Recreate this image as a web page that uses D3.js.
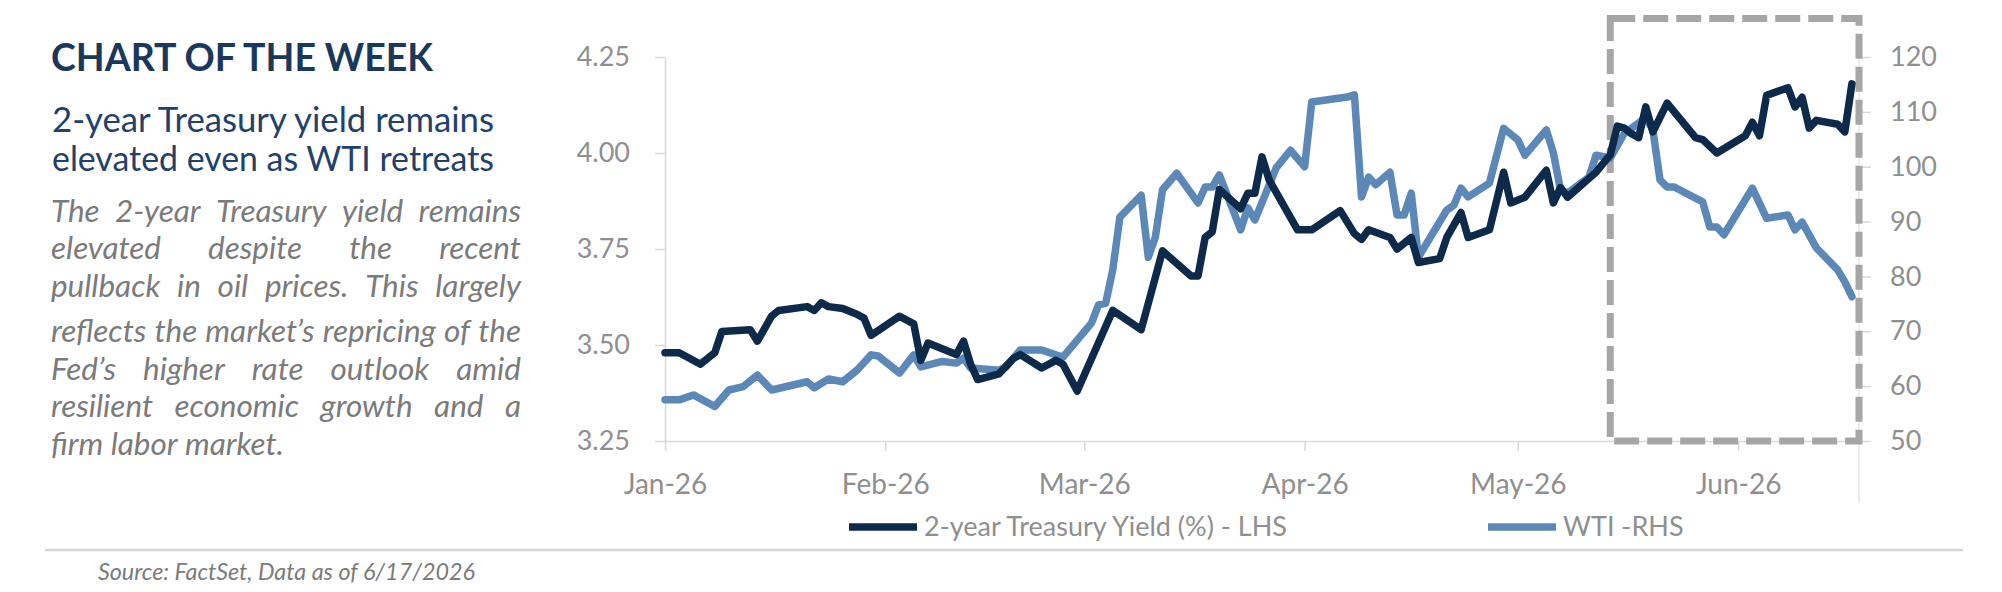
<!DOCTYPE html>
<html>
<head>
<meta charset="utf-8">
<script src="https://cdn.jsdelivr.net/npm/d3@7"></script>
<style>
  body { margin: 0; background: #fff; }
  svg { display: block; }
</style>
</head>
<body>
<div id="chart"></div>
<script>
// 2-year Treasury yield (LHS) vs WTI crude (RHS)

const yieldDates = [
  '2026-01-01', '2026-01-03', '2026-01-06', '2026-01-08', '2026-01-09', '2026-01-13', '2026-01-14',
  '2026-01-16', '2026-01-17', '2026-01-21', '2026-01-22', '2026-01-23', '2026-01-24', '2026-01-26',
  '2026-01-28', '2026-01-29', '2026-01-30', '2026-02-03', '2026-02-05', '2026-02-06', '2026-02-07',
  '2026-02-09', '2026-02-11', '2026-02-12', '2026-02-13', '2026-02-14', '2026-02-17', '2026-02-18',
  '2026-02-19', '2026-02-20', '2026-02-23', '2026-02-25', '2026-02-26', '2026-02-28', '2026-03-05',
  '2026-03-09', '2026-03-12', '2026-03-16', '2026-03-17', '2026-03-18', '2026-03-19', '2026-03-20',
  '2026-03-23', '2026-03-24', '2026-03-25', '2026-03-26', '2026-03-27', '2026-03-31', '2026-04-02',
  '2026-04-06', '2026-04-08', '2026-04-09', '2026-04-10', '2026-04-13', '2026-04-14', '2026-04-16',
  '2026-04-17', '2026-04-20', '2026-04-21', '2026-04-23', '2026-04-24', '2026-04-27', '2026-04-29',
  '2026-04-30', '2026-05-02', '2026-05-05', '2026-05-06', '2026-05-07', '2026-05-08', '2026-05-12',
  '2026-05-14', '2026-05-15', '2026-05-16', '2026-05-17', '2026-05-18', '2026-05-19', '2026-05-20',
  '2026-05-22', '2026-05-26', '2026-05-27', '2026-05-29', '2026-06-02', '2026-06-03', '2026-06-04',
  '2026-06-05', '2026-06-08', '2026-06-09', '2026-06-10', '2026-06-11', '2026-06-12', '2026-06-15',
  '2026-06-16', '2026-06-17'
];
const yieldValues = [
  3.48, 3.48, 3.45, 3.48, 3.535, 3.54, 3.51,
  3.575, 3.59, 3.60, 3.59, 3.61, 3.60, 3.595,
  3.58, 3.57, 3.525, 3.575, 3.555, 3.46, 3.505,
  3.49, 3.475, 3.51, 3.45, 3.41, 3.425, 3.445,
  3.465, 3.475, 3.44, 3.46, 3.45, 3.38, 3.59,
  3.54, 3.745, 3.68, 3.68, 3.78, 3.795, 3.905,
  3.855, 3.895, 3.895, 3.99, 3.93, 3.80, 3.80,
  3.85, 3.79, 3.775, 3.80, 3.78, 3.75, 3.78,
  3.715, 3.725, 3.78, 3.845, 3.78, 3.80, 3.95,
  3.87, 3.885, 3.955, 3.87, 3.91, 3.885, 3.95,
  3.995, 4.07, 4.065, 4.05, 4.04, 4.12, 4.055,
  4.13, 4.04, 4.035, 4.00, 4.045, 4.08, 4.045,
  4.15, 4.17, 4.12, 4.145, 4.065, 4.085, 4.075,
  4.055, 4.18
];

const wtiDates = [
  '2026-01-01', '2026-01-03', '2026-01-05', '2026-01-08', '2026-01-10', '2026-01-12', '2026-01-14',
  '2026-01-16', '2026-01-21', '2026-01-22', '2026-01-24', '2026-01-26', '2026-01-28', '2026-01-30',
  '2026-01-31', '2026-02-03', '2026-02-05', '2026-02-06', '2026-02-09', '2026-02-11', '2026-02-12',
  '2026-02-13', '2026-02-17', '2026-02-18', '2026-02-20', '2026-02-23', '2026-02-25', '2026-02-26',
  '2026-02-28', '2026-03-02', '2026-03-03', '2026-03-04', '2026-03-05', '2026-03-06', '2026-03-09',
  '2026-03-10', '2026-03-11', '2026-03-12', '2026-03-14', '2026-03-17', '2026-03-18', '2026-03-19',
  '2026-03-20', '2026-03-23', '2026-03-24', '2026-03-25', '2026-03-28', '2026-03-30', '2026-04-01',
  '2026-04-02', '2026-04-07', '2026-04-08', '2026-04-09', '2026-04-10', '2026-04-11', '2026-04-13',
  '2026-04-14', '2026-04-15', '2026-04-16', '2026-04-17', '2026-04-21', '2026-04-22', '2026-04-23',
  '2026-04-24', '2026-04-27', '2026-04-29', '2026-05-01', '2026-05-02', '2026-05-05', '2026-05-06',
  '2026-05-07', '2026-05-08', '2026-05-11', '2026-05-12', '2026-05-14', '2026-05-16', '2026-05-19',
  '2026-05-20', '2026-05-21', '2026-05-22', '2026-05-23', '2026-05-27', '2026-05-28', '2026-05-29',
  '2026-05-30', '2026-06-03', '2026-06-05', '2026-06-08', '2026-06-09', '2026-06-10', '2026-06-12',
  '2026-06-15', '2026-06-16', '2026-06-17'
];
const wtiValues = [
  57.5, 57.5, 58.4, 56.3, 59.3, 59.9, 62.0,
  59.3, 60.8, 59.7, 61.3, 60.8, 62.9, 65.7,
  65.5, 62.4, 65.7, 63.5, 64.5, 64.2, 65.1,
  63.3, 62.9, 63.5, 66.6, 66.6, 65.7, 65.3,
  68.4, 71.5, 74.8, 75.1, 81.2, 90.8, 94.8,
  83.5, 87.2, 95.8, 98.8, 93.4, 96.3, 96.3,
  98.5, 88.5, 92.5, 90.3, 99.8, 103.0, 100.0,
  111.8, 112.7, 113.1, 94.5, 98.1, 96.7, 99.0,
  91.2, 91.2, 95.2, 83.5, 92.1, 93.0, 96.1,
  94.5, 97.0, 107.0, 104.9, 102.1, 106.7, 102.5,
  95.8, 95.2, 98.1, 102.1, 101.6, 106.1, 108.9,
  106.7, 97.6, 96.3, 96.3, 93.6, 89.0, 89.0,
  87.6, 96.1, 90.6, 91.2, 88.5, 89.9, 85.2,
  81.2, 79.0, 76.3
];

const monthTicks = ['2026-01-01', '2026-02-01', '2026-03-01', '2026-04-01', '2026-05-01', '2026-06-01'];
const dateRange = ['2026-01-01', '2026-06-18'];
const leftTicks = [3.25, 3.50, 3.75, 4.00, 4.25];
const rightTicks = [50, 60, 70, 80, 90, 100, 110, 120];
const highlightDates = ['2026-05-14', '2026-06-18'];
const highlightValues = [50, 127];   // on the right axis

const seriesNames = ['2-year Treasury Yield (%) - LHS', 'WTI -RHS'];
const seriesColors = ['#0e2a4b', '#5c88b8'];

const headline = 'CHART OF THE WEEK';
const subtitleLines = ['2-year Treasury yield remains', 'elevated even as WTI retreats'];
const bodyLines = [
  'The 2-year Treasury yield remains',
  'elevated despite the recent',
  'pullback in oil prices. This largely',
  'reflects the market\u2019s repricing of the',
  'Fed\u2019s higher rate outlook amid',
  'resilient economic growth and a',
  'firm labor market.'
];
const sourceText = 'Source: FactSet, Data as of 6/17/2026';

const W = 2002, H = 592;
const parse = d3.utcParse('%Y-%m-%d');
const plot = { left: 665, right: 1859, top: 57, bottom: 441 };

const svg = d3.select('#chart').append('svg')
  .attr('width', W)
  .attr('height', H)
  .style('font-family', 'Lato, "Open Sans", sans-serif');

// helper: scale font so text spans a given width
function fitWidth(sel, target) {
  const w = sel.node().getComputedTextLength();
  const s = parseFloat(sel.attr('font-size'));
  sel.attr('font-size', (s * target / w).toFixed(2));
}

// ---- left text panel ----
const title = svg.append('text')
  .attr('x', 51).attr('y', 71)
  .attr('font-size', 30).attr('font-weight', 700)
  .attr('fill', '#1a375c')
  .text(headline);
fitWidth(title, 382);

subtitleLines.forEach((line, i) => {
  const t = svg.append('text')
    .attr('x', 52).attr('y', 132 + i * 39)
    .attr('font-size', 26)
    .attr('fill', '#22416a')
    .text(line);
  fitWidth(t, 442);
});

// justified italic body copy
const bodyLeft = 51, bodyWidth = 470;
const bodyBaselines = [222, 259, 297, 342, 380, 417, 455];
const probe = svg.append('text').attr('font-size', 22).attr('font-style', 'italic').text(bodyLines[3]);
const bodySize = 22 * 466 / probe.node().getComputedTextLength();
probe.remove();

function measure(word) {
  const t = svg.append('text').attr('font-size', bodySize).attr('font-style', 'italic').text(word);
  const w = t.node().getComputedTextLength();
  t.remove();
  return w;
}
const spaceW = measure('a a') - measure('aa');

bodyLines.forEach((line, i) => {
  const words = line.split(' ');
  const widths = words.map(measure);
  const last = i === bodyLines.length - 1;
  const gap = last ? spaceW : (bodyWidth - d3.sum(widths)) / (words.length - 1);
  const t = svg.append('text')
    .attr('y', bodyBaselines[i])
    .attr('font-size', bodySize)
    .attr('font-style', 'italic')
    .attr('fill', '#7b7b7b');
  let cx = bodyLeft;
  words.forEach((w, j) => {
    t.append('tspan').attr('x', cx).text(w);
    cx += widths[j] + gap;
  });
});

// separator + source
svg.append('line')
  .attr('x1', 45).attr('x2', 1963)
  .attr('y1', 550).attr('y2', 550)
  .attr('stroke', '#d4d4d4').attr('stroke-width', 2.5);

const src = svg.append('text')
  .attr('x', 98).attr('y', 580)
  .attr('font-size', 18).attr('font-style', 'italic')
  .attr('fill', '#7b7b7b')
  .text(sourceText);
fitWidth(src, 377);

// ---- chart ----
const x = d3.scaleUtc()
  .domain(dateRange.map(parse))
  .range([plot.left, plot.right]);

const yL = d3.scaleLinear()
  .domain([3.25, 4.25])
  .range([plot.bottom, plot.top]);

const yR = d3.scaleLinear()
  .domain([50, 120])
  .range([plot.bottom, plot.top]);

const axisColor = '#d9d9d9';
const labelColor = '#8f8f8f';

function styleAxis(g) {
  g.select('.domain').attr('stroke', axisColor).attr('stroke-width', 1.5);
  g.selectAll('.tick line').attr('stroke', axisColor).attr('stroke-width', 1.5);
  g.selectAll('.tick text')
    .attr('fill', labelColor)
    .attr('font-size', 27)
    .attr('font-family', 'Lato, "Open Sans", sans-serif');
}

svg.append('g')
  .attr('transform', `translate(0,${plot.bottom})`)
  .call(d3.axisBottom(x)
    .tickValues(monthTicks.map(parse))
    .tickFormat(d3.utcFormat('%b-%y'))
    .tickSize(10).tickSizeOuter(0).tickPadding(23))
  .call(styleAxis)
  .call(g => g.selectAll('.tick text').attr('font-size', 28));

svg.append('g')
  .attr('transform', `translate(${plot.left},0)`)
  .call(d3.axisLeft(yL)
    .tickValues(leftTicks)
    .tickFormat(d3.format('.2f'))
    .tickSize(10).tickSizeOuter(0).tickPadding(25))
  .call(styleAxis);

const rightAxis = svg.append('g')
  .attr('transform', `translate(${plot.right},0)`)
  .call(d3.axisRight(yR)
    .tickValues(rightTicks)
    .tickSize(12).tickSizeOuter(0).tickPadding(19))
  .call(styleAxis);
rightAxis.select('.domain').remove();

// faint right edge that runs past the axis
svg.append('line')
  .attr('x1', plot.right).attr('x2', plot.right)
  .attr('y1', plot.top).attr('y2', 503)
  .attr('stroke', '#e6e6e6').attr('stroke-width', 1.5);

// highlight box for the latest weeks
svg.append('rect')
  .attr('x', x(parse(highlightDates[0])))
  .attr('y', yR(highlightValues[1]))
  .attr('width', x(parse(highlightDates[1])) - x(parse(highlightDates[0])))
  .attr('height', yR(highlightValues[0]) - yR(highlightValues[1]))
  .attr('fill', 'none')
  .attr('stroke', '#a6a6a6')
  .attr('stroke-width', 7)
  .attr('stroke-dasharray', '25 8');

// lines
const wtiData = wtiDates.map((d, i) => ({ date: parse(d), value: wtiValues[i] }));
const yieldData = yieldDates.map((d, i) => ({ date: parse(d), value: yieldValues[i] }));

svg.append('path')
  .datum(wtiData)
  .attr('fill', 'none')
  .attr('stroke', seriesColors[1])
  .attr('stroke-width', 7.5)
  .attr('stroke-linejoin', 'round')
  .attr('stroke-linecap', 'round')
  .attr('d', d3.line().x(d => x(d.date)).y(d => yR(d.value)));

svg.append('path')
  .datum(yieldData)
  .attr('fill', 'none')
  .attr('stroke', seriesColors[0])
  .attr('stroke-width', 7.5)
  .attr('stroke-linejoin', 'round')
  .attr('stroke-linecap', 'round')
  .attr('d', d3.line().x(d => x(d.date)).y(d => yL(d.value)));

// legend
const legendX = [849, 1488];
seriesNames.forEach((name, i) => {
  const g = svg.append('g').attr('transform', `translate(${legendX[i]},527)`);
  g.append('line')
    .attr('x1', 0).attr('x2', 68)
    .attr('stroke', seriesColors[i])
    .attr('stroke-width', 7.5);
  g.append('text')
    .attr('x', 75).attr('dy', '0.35em')
    .attr('font-size', 27)
    .attr('fill', labelColor)
    .text(name);
});
</script>
</body>
</html>
